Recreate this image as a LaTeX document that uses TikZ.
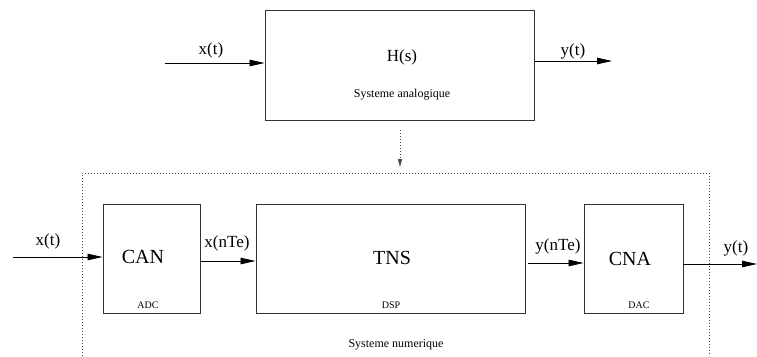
\documentclass[tikz,border=0pt]{standalone}
\usepackage{fontspec}
\setmainfont{Liberation Serif}
\usetikzlibrary{arrows.meta}
\begin{document}
\begin{tikzpicture}[x=1pt,y=-1pt,
  blk/.style={draw=black!80,line width=0.9pt,inner sep=0pt},
  sig/.style={line width=0.8pt,-{Triangle[length=15pt,width=6.5pt]}},
  lbl/.style={inner sep=0pt,font=\fontsize{17}{17}\selectfont},
  big/.style={inner sep=0pt,font=\fontsize{20}{20}\selectfont},
  mid/.style={inner sep=0pt,font=\fontsize{17}{17}\selectfont},
  sml/.style={inner sep=0pt,font=\fontsize{12}{12}\selectfont},
  tiny/.style={inner sep=0pt,font=\fontsize{10}{10}\selectfont},
  dots/.style={line width=0.6pt,dash pattern=on 0.6pt off 2.4pt,draw=black!70}]
\useasboundingbox (0,0) rectangle (757,356);
% top analog system
\node[blk,minimum width=269pt,minimum height=110pt] (H) at (399.5,65) {};
\node[mid] (Hs) at (402,57) {H(s)};
\node[sml] (Hsa) at (402,95) {Systeme analogique};
\coordinate (hin) at (165,63);
\coordinate (hout) at (612,61);
\draw[sig] (hin) -- (hin -| H.west);
\draw[sig] (hout -| H.east) -- (hout);
\node[lbl] (xt1) at (211,50) {x(t)};
\node[lbl] (yt1) at (573,51) {y(t)};
% dotted arrow
\coordinate (d1) at (400,130);
\coordinate (d2) at (400,167);
\draw[dots,-{Triangle[length=8pt,width=4.5pt,line width=0pt]}] (d1) -- (d2);
% dotted frame
\coordinate (f1) at (82,356);
\coordinate (f2) at (82,173);
\coordinate (f3) at (709,173);
\coordinate (f4) at (709,356);
\draw[dots] (f1) -- (f2) -- (f3) -- (f4);
% digital chain
\node[blk,minimum width=97pt,minimum height=109pt] (CAN) at (151.5,258.5) {};
\node[blk,minimum width=269pt,minimum height=109pt] (TNS) at (390.5,258.5) {};
\node[blk,minimum width=99pt,minimum height=109pt] (CNA) at (633.5,258.5) {};
\node[big] (tcan) at (143,257) {CAN};
\node[tiny] (tadc) at (148,305) {ADC};
\node[big] (ttns) at (392,258) {TNS};
\node[tiny] (tdsp) at (391,305) {DSP};
\node[big] (tcna) at (630,259) {CNA};
\node[tiny] (tdac) at (639,305) {DAC};
\node[sml] (tnum) at (396,345) {Systeme numerique};
\coordinate (bin) at (13,257);
\coordinate (a1) at (200,261);
\coordinate (a2) at (525,263);
\coordinate (bout) at (757,264);
\draw[sig] (bin) -- (bin -| CAN.west);
\draw[sig] (a1) -- (a1 -| TNS.west);
\draw[sig,shorten <=3pt] (a2) -- (a2 -| CNA.west);
\draw[sig] (bout -| CNA.east) -- (bout);
\node[lbl] (xt2) at (48,241) {x(t)};
\node[lbl] (xn) at (227,243) {x(nTe)};
\node[lbl] (yn) at (558,246) {y(nTe)};
\node[lbl] (yt2) at (736,248) {y(t)};
\end{tikzpicture}
\end{document}
